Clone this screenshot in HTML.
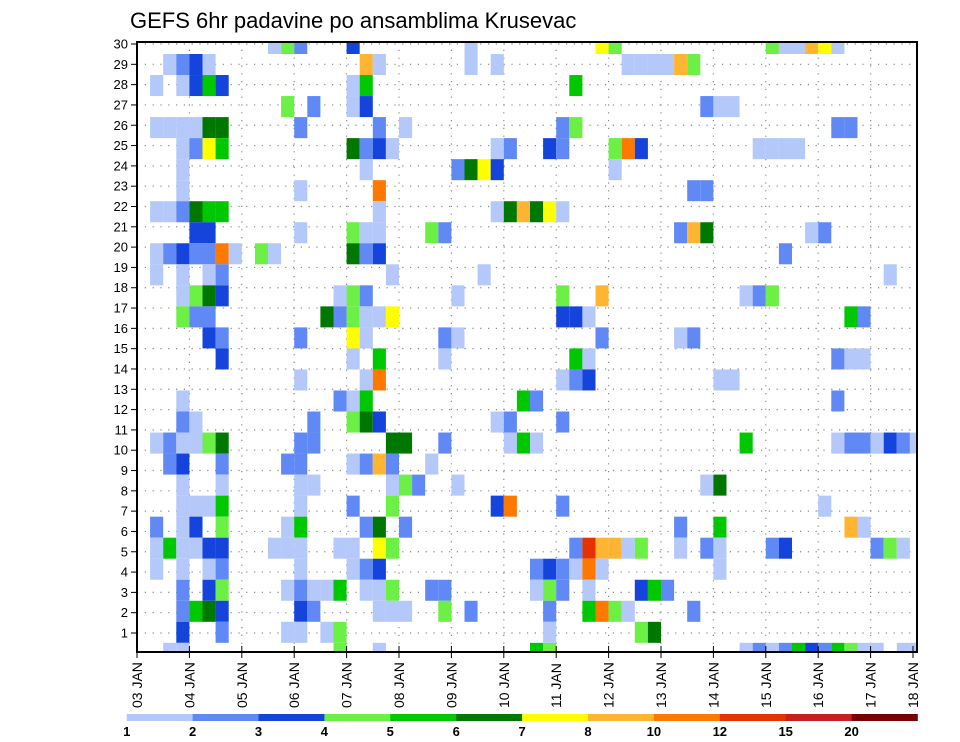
<!DOCTYPE html>
<html><head><meta charset="utf-8"><style>
html,body{margin:0;padding:0;background:#fff;}
svg{display:block;font-family:"Liberation Sans",sans-serif;}
</style></head><body>
<svg id="chart" width="960" height="742" viewBox="0 0 960 742" xmlns="http://www.w3.org/2000/svg">
<rect x="0" y="0" width="960" height="742" fill="#fff"/>
<text x="130" y="28" font-size="22" fill="#000">GEFS 6hr padavine po ansamblima Krusevac</text>
<g id="grid"></g>
<g id="cells"></g>
<g id="axes"></g>
<g id="legend"></g>
</svg>
<script>
const dayLabels = ["03 JAN","04 JAN","05 JAN","06 JAN","07 JAN","08 JAN","09 JAN","10 JAN","11 JAN","12 JAN","13 JAN","14 JAN","15 JAN","16 JAN","17 JAN","18 JAN"];
const memberLabels = [1,2,3,4,5,6,7,8,9,10,11,12,13,14,15,16,17,18,19,20,21,22,23,24,25,26,27,28,29,30];
const levelValues = [1,2,3,4,5,6,7,8,10,12,15,20];
const levelColors = ["#b4c8fa","#6089f5","#1444dc","#6cf046","#00c800","#007800","#ffff00","#ffb432","#ff7800","#e63200","#c81e1e","#780000"];
// band rows from top (0) to bottom (29); entries "column:value" (6-hour steps from 03 JAN 00z)
const bandCells = [
"10:1 11:4 12:2 16:3 25:1 35:7 36:4 48:4 49:1 50:1 51:8 52:7 53:1",
"2:1 3:2 4:3 5:1 17:8 18:1 25:1 27:1 37:1 38:1 39:1 40:1 41:8 42:4",
"1:1 3:1 4:3 5:5 6:3 16:1 17:5 33:5",
"11:4 13:2 16:1 17:3 43:2 44:1 45:1",
"1:1 2:1 3:1 4:1 5:6 6:6 12:2 18:2 20:1 32:2 33:4 53:2 54:2",
"3:1 4:2 5:7 6:5 16:6 17:2 18:3 19:1 27:1 28:2 31:3 32:2 36:4 37:10 38:3 47:1 48:1 49:1 50:1",
"3:1 17:1 24:2 25:6 26:7 27:3 36:1",
"3:1 12:1 18:10 42:2 43:2",
"1:1 2:1 3:2 4:6 5:5 6:5 18:1 27:1 28:6 29:8 30:6 31:7 32:1",
"4:3 5:3 12:1 16:4 17:1 18:1 22:4 23:2 41:2 42:8 43:6 51:1 52:2",
"1:1 2:2 3:3 4:2 5:2 6:10 7:1 9:4 10:1 16:6 17:2 18:3 49:2",
"1:1 3:1 5:1 6:2 19:1 26:1 57:1",
"3:1 4:4 5:6 6:3 15:1 16:4 17:2 24:1 32:4 35:8 46:1 47:2 48:4",
"3:4 4:2 5:2 14:6 15:2 16:4 17:1 18:1 19:7 32:3 33:3 34:1 54:5 55:2",
"5:3 6:2 12:2 16:7 17:1 23:2 24:1 35:2 41:1 42:2",
"6:3 16:1 18:5 23:1 33:5 34:1 53:2 54:1 55:1",
"12:1 17:1 18:10 32:1 33:2 34:3 44:1 45:1",
"3:1 15:2 16:1 17:5 29:5 30:2 53:2",
"3:2 4:1 13:2 16:4 17:6 18:3 27:1 28:2 32:2",
"1:1 2:2 3:1 4:1 5:4 6:6 12:2 13:2 19:6 20:6 23:2 28:1 29:5 30:1 46:5 53:1 54:2 55:2 56:1 57:3 58:2 59:1",
"2:2 3:3 6:2 11:2 12:2 16:1 17:2 18:8 19:2 22:1",
"3:1 6:1 12:1 13:1 19:1 20:4 21:2 24:1 43:1 44:6",
"3:1 4:1 5:1 6:5 12:1 16:2 19:4 27:3 28:10 32:2 52:1",
"1:2 3:1 4:3 6:4 11:1 12:5 17:2 18:6 20:2 41:2 44:5 54:8 55:1",
"1:1 2:5 3:1 4:1 5:3 6:3 10:1 11:1 12:1 15:1 16:1 18:7 19:4 33:2 34:12 35:8 36:8 37:1 38:4 41:1 43:2 44:1 48:2 49:3 56:2 57:4 58:1",
"1:1 3:1 5:1 6:2 12:1 16:1 17:2 18:3 30:2 31:3 32:2 33:1 34:10 35:1 44:1",
"3:2 5:3 6:4 11:1 12:2 13:1 14:1 15:5 17:1 18:1 19:4 22:2 23:2 30:1 31:4 32:2 34:1 38:3 39:5 40:2",
"3:2 4:5 5:6 6:3 12:3 13:2 18:1 19:1 20:1 23:4 25:2 31:2 34:5 35:10 36:4 37:1 42:2",
"3:3 6:2 11:1 12:1 14:1 15:4 31:1 38:4 39:6",
"2:1 3:1 15:4 18:1 30:5 31:4 46:1 47:2 48:1 49:2 50:5 51:3 52:2 53:5 54:4 55:1 56:1 58:1 59:1"
];

const NS = "http://www.w3.org/2000/svg";
const L = 137, R = 917, T = 42, B = 652;
const dayW = 52.4, colW = dayW / 4;
function xCol(c){ return L + c * colW; }
function xDay(d){ return L + d * dayW; }
function yMember(m){ return 633 - (m - 1) * 20.31; }
function bandTop(b){ return b === 0 ? T : 54 + 21.03 * (b - 1); }
function bandBottom(b){ return Math.min(B, 54 + 21.03 * b); }
function colorFor(v){ let i = 0; for (let k = 0; k < levelValues.length; k++) if (v >= levelValues[k]) i = k; return levelColors[i]; }
function mk(tag, attrs, parent){ const e = document.createElementNS(NS, tag); for (const k in attrs) e.setAttribute(k, attrs[k]); parent.appendChild(e); return e; }

const grid = document.getElementById('grid');
memberLabels.forEach(m => {
  const ln = mk('line', {x1:L, x2:R, y1:yMember(m), y2:yMember(m), stroke:'#888', 'stroke-width':1.2, 'stroke-dasharray':'1.2,6.6'}, grid);
  
  
});
dayLabels.forEach((d, i) => {
  if (i === 0 || i === dayLabels.length - 1) return;
  const ln = mk('line', {x1:xDay(i), x2:xDay(i), y1:T, y2:B, stroke:'#888', 'stroke-width':1.2, 'stroke-dasharray':'1.2,6.6'}, grid);
  
  
});

const cells = document.getElementById('cells');
bandCells.forEach((row, b) => {
  row.split(' ').forEach(pair => {
    const [c, v] = pair.split(':').map(Number);
    const x0 = xCol(c), x1 = Math.min(R, xCol(c + 1));
    const y0 = bandTop(b), y1 = bandBottom(b);
    const r = mk('rect', {x:x0.toFixed(2), y:y0.toFixed(2), width:(x1 - x0).toFixed(2), height:(y1 - y0).toFixed(2), fill:colorFor(v)}, cells);
    
    
  });
});

const axes = document.getElementById('axes');
const frame = mk('rect', {x:L, y:T, width:R - L, height:B - T, fill:'none', stroke:'#000', 'stroke-width':2}, axes);


memberLabels.forEach(m => {
  const y = yMember(m);
  mk('line', {x1:L - 6, x2:L, y1:y, y2:y, stroke:'#000', 'stroke-width':1}, axes);
  const t = mk('text', {x:L - 9, y:y + 4.5, 'font-size':13, 'text-anchor':'end', fill:'#000'}, axes);
  t.textContent = m;
  
  
});
dayLabels.forEach((d, i) => {
  const x = Math.min(xDay(i), 913);
  mk('line', {x1:x, x2:x, y1:B - 6, y2:B + 6, stroke:'#000', 'stroke-width':1}, axes);
  const t = mk('text', {transform:'translate(' + (x + 5) + ',708) rotate(-90)', 'font-size':14, fill:'#000'}, axes);
  t.textContent = d;
  
  
});

const legend = document.getElementById('legend');
const segW = 65.9, legX = 126.7;
levelColors.forEach((col, i) => {
  const r = mk('rect', {x:legX + i * segW, y:714, width:segW + 0.3, height:7, fill:col}, legend);
  
  
  const t = mk('text', {x:legX + i * segW, y:736, 'font-size':13, 'font-weight':'bold', 'text-anchor':'middle', fill:'#000'}, legend);
  t.textContent = levelValues[i];
  
  
});
</script>
</body></html>
